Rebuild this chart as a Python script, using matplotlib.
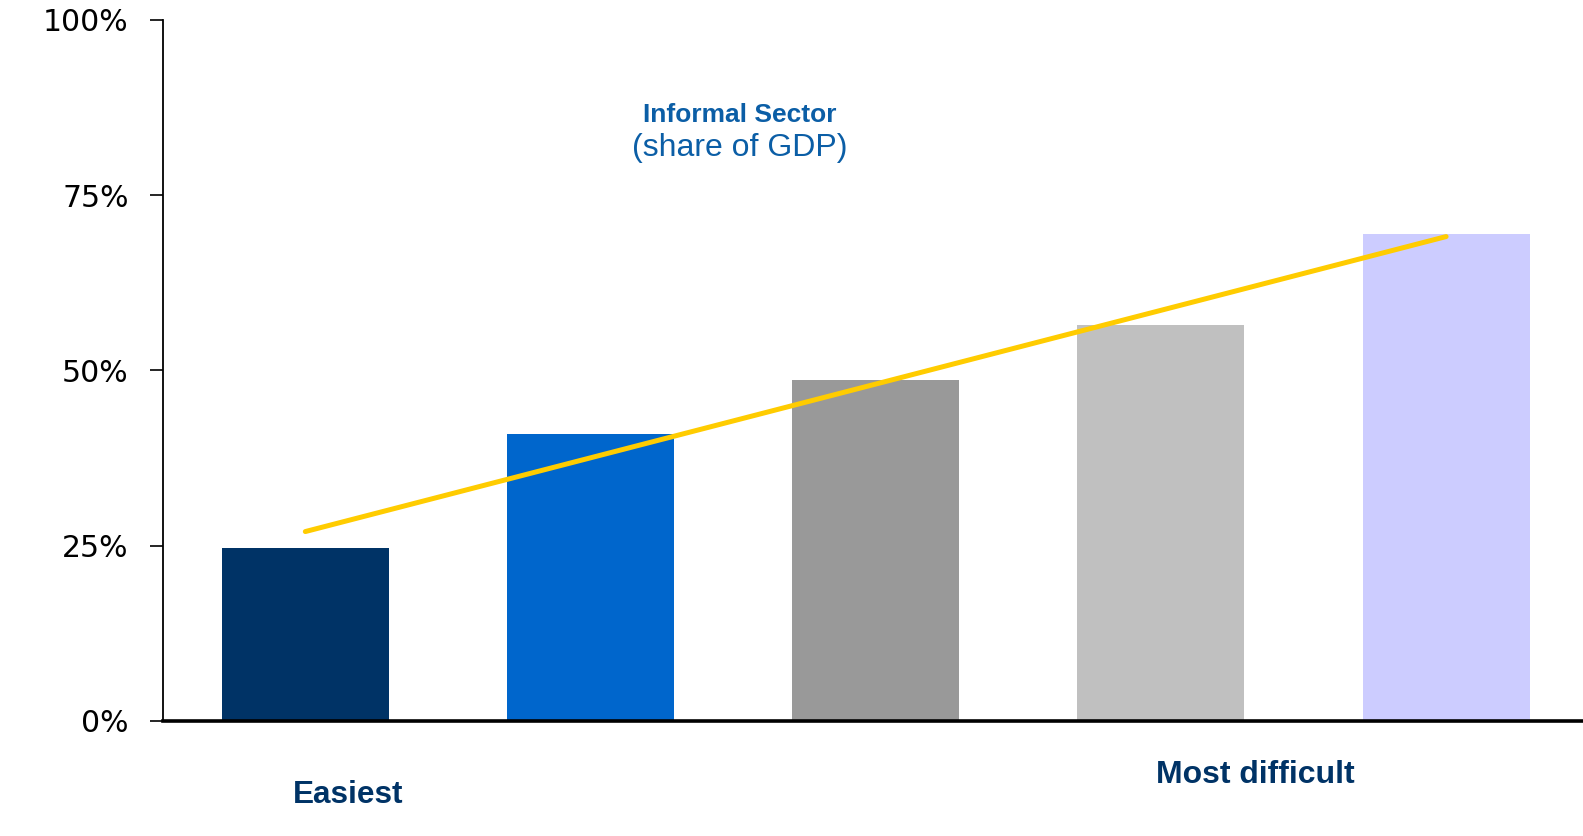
import numpy as np
import matplotlib
matplotlib.use("Agg")
import matplotlib.pyplot as plt

# Informal sector size (share of GDP) by ease-of-doing-business quintile
quintiles = ["Q1", "Q2", "Q3", "Q4", "Q5"]
informal_share = [24.7, 40.9, 48.7, 56.5, 69.5]
bar_colors = ["#003366", "#0066CC", "#999999", "#C0C0C0", "#CCCCFF"]
y_ticks = [0, 25, 50, 75, 100]
y_tick_labels = ["0%", "25%", "50%", "75%", "100%"]

fig = plt.figure(figsize=(15.83, 8.36), dpi=100)
ax = fig.add_axes([0.1028, 0.1376, 0.8972, 0.8385])

x = np.arange(len(quintiles))
ax.bar(x, informal_share, width=0.585, color=bar_colors, zorder=2)

# Linear trend through the quintile averages
slope, intercept = np.polyfit(x, informal_share, 1)
ax.plot(x[[0, -1]], intercept + slope * x[[0, -1]], color="#FFCC00",
        linewidth=3.6, solid_capstyle="round", zorder=3)

ax.set_xlim(-0.5, 4.48)
ax.set_ylim(0, 100)
ax.set_yticks(y_ticks)
ax.set_yticklabels(y_tick_labels, fontsize=21.5, family="DejaVu Sans")
ax.set_xticks([])
ax.tick_params(axis="y", direction="out", length=9.5, width=1.2, pad=15)

for side in ("top", "right"):
    ax.spines[side].set_visible(False)
ax.spines["left"].set_linewidth(1.3)
ax.spines["bottom"].set_linewidth(2.6)
ax.spines["bottom"].set_zorder(4)

# Chart title
fig.text(740 / 1583, 1 - 115 / 836, "Informal Sector", ha="center", va="center",
         fontsize=19, fontweight="bold", color="#0B5EA6", family="Liberation Sans")
fig.text(740 / 1583, 1 - 148 / 836, "(share of GDP)", ha="center", va="center",
         fontsize=23, color="#0B5EA6", family="Liberation Sans")

# End labels of the difficulty scale
fig.text(348 / 1583, 1 - 795 / 836, "Easiest", ha="center", va="center",
         fontsize=22.7, fontweight="bold", color="#003366", family="Liberation Sans")
fig.text(1255 / 1583, 1 - 775 / 836, "Most difficult", ha="center", va="center",
         fontsize=23, fontweight="bold", color="#003366", family="Liberation Sans")

fig.savefig("out.png", dpi=100, facecolor="white")
